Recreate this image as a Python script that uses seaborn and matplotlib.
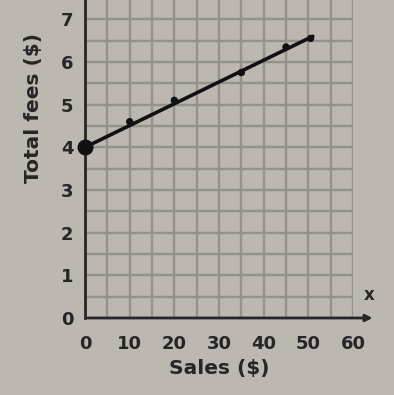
import matplotlib
matplotlib.use("Agg")
import matplotlib.pyplot as plt
import seaborn as sns
import pandas as pd
import numpy as np

# Data
sales = [0, 10, 20, 35, 45, 50.5]
fees = [4.0, 4.6, 5.1, 5.75, 6.35, 6.55]
line_sales = [0, 51]
line_fees = [4.0, 6.6]
x_tick_labels = [0, 10, 20, 30, 40, 50, 60]
y_tick_labels = [0, 1, 2, 3, 4, 5, 6, 7]

bg = "#bcb7b0"
grid_c = "#95918b"
ink = "#262626"

sns.set_theme(style="white")
plt.rcParams['font.family'] = ['DejaVu Sans']

fig = plt.figure(figsize=(3.94, 3.95), dpi=100, facecolor=bg)
ax = fig.add_axes([85/394, 1 - 318/395, (353 - 85)/394, 318/395])
ax.set_facecolor(bg)

pts = pd.DataFrame({"Sales": sales, "Fees": fees})
ln = pd.DataFrame({"Sales": line_sales, "Fees": line_fees})
sns.lineplot(data=ln, x="Sales", y="Fees", ax=ax, color="#111111", lw=2.6, zorder=5)
sns.scatterplot(data=pts, x="Sales", y="Fees", ax=ax, color="#111111", s=28,
                edgecolor="none", zorder=6)
ax.scatter([0], [4.0], s=110, color="#111111", zorder=7, clip_on=False)

ax.set_xlim(0, 60)
ax.set_ylim(0, 7.45)
xt = np.arange(0, 61, 5)
ax.set_xticks(xt)
ax.set_xticklabels([str(v) if v in x_tick_labels else "" for v in xt])
yt = np.arange(0, 7.5, 0.5)
ax.set_yticks(yt)
ax.set_yticklabels([str(int(v)) if v in y_tick_labels else "" for v in yt])
ax.grid(True, color=grid_c, lw=1.7)
ax.set_axisbelow(True)

for s in ["top", "right", "bottom"]:
    ax.spines[s].set_visible(False)
ax.spines["left"].set_color(ink)
ax.spines["left"].set_linewidth(2)
ax.tick_params(axis="both", direction="inout", length=7, width=1.5, color=ink,
               labelsize=13, labelcolor=ink)
ax.tick_params(axis="x", pad=9)
ax.tick_params(axis="y", pad=5)
for t in ax.get_xticklabels() + ax.get_yticklabels():
    t.set_fontweight("bold")

# x axis with arrow
ax.annotate("", xy=(65, 0), xytext=(0, 0), xycoords="data",
            arrowprops=dict(arrowstyle="-|>", color=ink, lw=2, mutation_scale=10),
            annotation_clip=False)
ax.text(63.5, 0.55, "x", fontsize=12, fontweight="bold", color=ink,
        ha="center", va="center", clip_on=False)

ax.set_xlabel("Sales ($)", fontsize=14.5, fontweight="bold", color=ink, labelpad=4)
ax.set_ylabel("Total fees ($)", fontsize=14.5, fontweight="bold", color=ink)
ax.yaxis.set_label_coords(-42/268, 1 - 108/318)

fig.savefig("out.png", dpi=100, facecolor=bg)
